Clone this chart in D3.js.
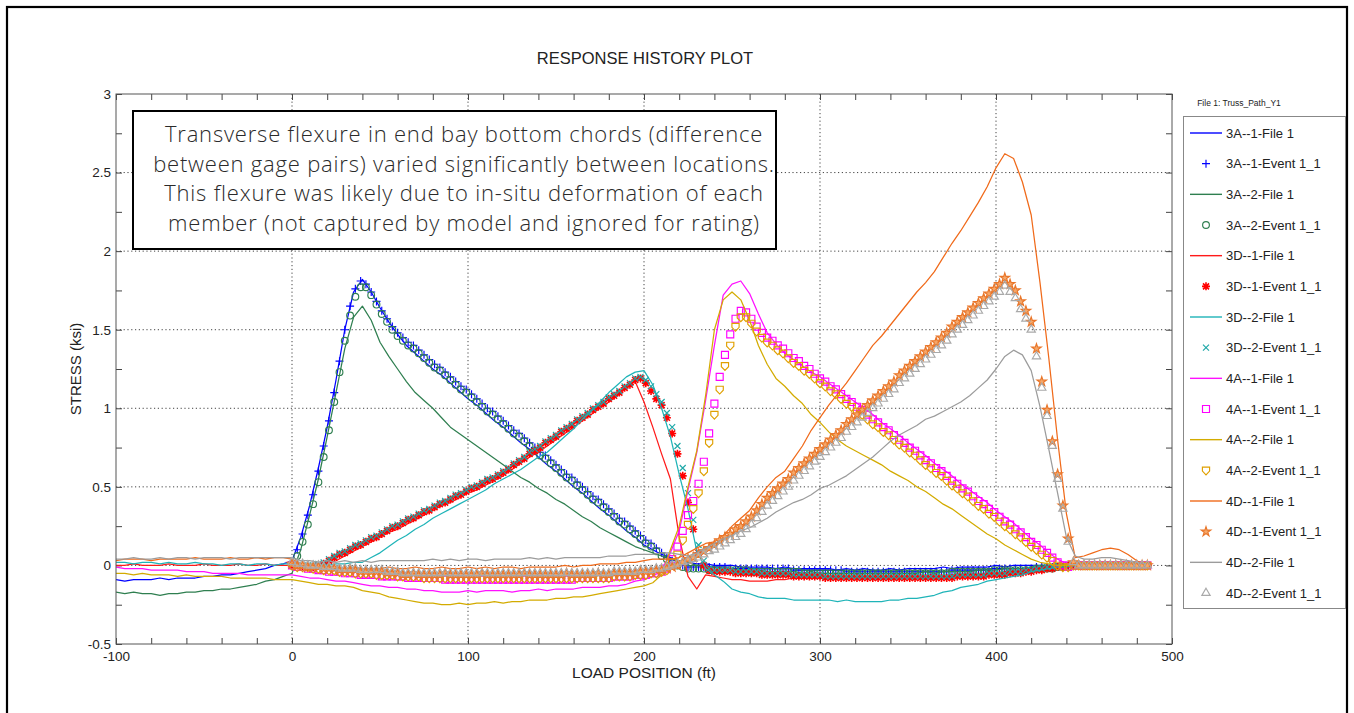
<!DOCTYPE html>
<html>
<head>
<meta charset="utf-8">
<title>Response History Plot</title>
<script src="https://cdn.jsdelivr.net/npm/d3@7"></script>
<style>
  body { margin: 0; background: #fff; }
  svg { display: block; }
  text { font-family: "Liberation Sans", Arial, sans-serif; fill: #222; }
  .note { font-family: "Open Sans", "Lato", sans-serif; font-weight: 300; fill: #2a2a2a; }
</style>
</head>
<body>
<div id="chart"></div>
<script>
// ---- data (load position in ft, stress in ksi) ----

// positions of the measured "File 1" traces
const lineX = [-100,-95,-90,-85,-80,-75,-70,-65,-60,-55,-50,-45,-40,-35,-30,-25,-20,-15,-10,-5,
  0,5,10,15,20,25,30,35,40,45,50,55,60,65,70,75,80,85,90,95,100,105,110,115,120,125,130,135,140,145,
  150,155,160,165,170,175,180,185,190,195,200,205,210,215,220,225,230,235,240,245,250,255,260,265,270,275,280,285,290,295,
  300,305,310,315,320,325,330,335,340,345,350,355,360,365,370,375,380,385,390,395,400,405,410,415,420,425,430,435,440,445,
  450,455,460,465,470,475,480,485]

// positions of the model "Event 1_1" markers
const eventX = [0,3,6,9,12,15,18,21,24,27,30,33,36,39,42,45,48,51,54,57,60,63,66,69,72,75,78,81,84,87,
  90,93,96,99,102,105,108,111,114,117,120,123,126,129,132,135,138,141,144,147,150,153,156,159,162,165,168,171,174,177,
  180,183,186,189,192,195,198,201,204,207,210,213,216,219,222,225,228,231,234,237,240,243,246,249,252,255,258,261,264,267,
  270,273,276,279,282,285,288,291,294,297,300,303,306,309,312,315,318,321,324,327,330,333,336,339,342,345,348,351,354,357,
  360,363,366,369,372,375,378,381,384,387,390,393,396,399,402,405,408,411,414,417,420,423,426,429,432,435,438,441,444,447,
  450,453,456,459,462,465,468,471,474,477,480,483,486]

// measured traces
const line3A1 = [-0.09,-0.10,-0.09,-0.09,-0.09,-0.08,-0.09,-0.08,-0.08,-0.08,-0.07,-0.07,-0.06,-0.06,-0.05,-0.04,-0.03,-0.02,0.00,0.01,
  0.03,0.18,0.38,0.62,0.88,1.18,1.50,1.74,1.82,1.74,1.64,1.55,1.47,
  1.40,1.35,1.30,1.25,1.21,1.16,1.11,1.06,1.02,0.97,0.92,0.88,0.83,0.78,0.74,0.69,0.64,0.60,0.55,0.50,0.46,0.41,0.36,0.32,0.27,0.22,0.18,0.13,0.10,0.07,0.05,0.03,0.02,
  0.01,0.01,0.00,0.00,0.00,-0.01,-0.01,-0.01,-0.01,-0.02,-0.01,-0.02,-0.02,-0.02,-0.02,-0.02,-0.03,-0.02,-0.03,-0.02,
  -0.03,-0.03,-0.02,-0.03,-0.02,-0.02,-0.02,-0.02,-0.01,-0.02,-0.01,-0.01,-0.01,-0.01,0.00,-0.01,0.00,0.00,0.00,0.00,
  0.00,0.00,0.00,0.00,0.00,0.00,0.01,0.00,0.00,0.00,0.00,0.00]
const line3A2 = [-0.17,-0.18,-0.17,-0.18,-0.18,-0.19,-0.18,-0.18,-0.17,-0.17,-0.16,-0.16,-0.15,-0.15,-0.14,-0.13,-0.12,-0.10,-0.09,-0.07,
  -0.05,0.10,0.32,0.55,0.82,1.10,1.38,1.58,1.65,1.56,1.42,1.33,1.25,
  1.17,1.10,1.05,1.00,0.94,0.88,0.84,0.80,0.76,0.72,0.68,0.64,0.60,0.56,0.53,0.49,0.46,0.42,0.39,0.35,0.31,0.28,0.24,0.21,0.18,0.15,0.12,0.10,0.08,0.06,0.04,0.03,0.02,
  0.00,-0.01,-0.01,-0.02,-0.02,-0.03,-0.03,-0.03,-0.04,-0.04,-0.04,-0.04,-0.05,-0.04,-0.05,-0.05,-0.05,-0.05,-0.05,-0.05,
  -0.05,-0.05,-0.05,-0.05,-0.05,-0.05,-0.04,-0.05,-0.04,-0.04,-0.04,-0.04,-0.03,-0.03,-0.03,-0.02,-0.02,-0.02,-0.01,-0.01,
  -0.01,0.00,0.00,0.00,0.00,0.00,0.00,0.00,0.00,0.00,0.00,0.00]
const line3D1 = [0.00,0.00,0.01,0.00,0.00,0.00,0.01,0.00,0.00,0.00,0.01,0.00,0.00,0.00,0.01,0.00,0.00,0.01,0.00,0.00,
  0.00,0.00,0.00,0.00,0.01,0.03,
  0.06,0.09,0.12,0.15,0.18,0.21,0.23,0.26,0.29,0.32,0.35,0.38,0.40,0.43,0.46,0.48,0.51,0.54,0.57,0.61,
  0.65,0.69,0.72,0.76,0.80,0.84,0.88,0.92,0.96,1.00,1.04,1.08,1.13,1.17,
  1.04,0.88,0.71,0.55,0.18,-0.07,-0.15,-0.06,
  -0.07,-0.08,-0.09,-0.09,-0.10,-0.10,-0.10,-0.09,-0.09,-0.08,-0.08,-0.08,-0.08,-0.09,-0.08,-0.08,-0.09,-0.08,-0.08,-0.08,
  -0.08,-0.08,-0.08,-0.07,-0.08,-0.07,-0.07,-0.07,-0.06,-0.06,-0.06,-0.05,-0.05,-0.04,-0.04,-0.03,-0.03,-0.02,-0.01,-0.01,
  0.00,0.00,0.00,0.01,0.00,0.00,0.00,0.00,0.00,0.00]
const line3D2 = [0.02,0.02,0.01,0.02,0.02,0.01,0.02,0.01,0.01,0.02,0.01,0.01,0.00,0.01,0.01,0.00,0.01,0.01,0.00,0.01,
  0.01,0.01,0.00,0.00,0.00,0.01,0.01,0.02,
  0.02,0.05,0.08,0.12,0.16,0.19,0.23,0.26,0.30,0.33,0.36,0.39,0.42,0.45,0.48,0.52,0.55,0.58,0.61,0.65,
  0.69,0.72,0.77,0.82,0.87,0.93,0.98,1.04,1.10,1.15,1.20,1.23,1.24,
  1.15,1.00,0.82,0.58,0.36,0.09,-0.02,-0.06,-0.10,-0.15,-0.17,-0.18,-0.20,-0.21,-0.21,-0.21,-0.22,-0.22,-0.22,-0.22,
  -0.22,-0.23,-0.22,-0.23,-0.23,-0.23,-0.23,-0.22,-0.22,-0.21,-0.21,-0.20,-0.19,-0.17,-0.16,-0.14,-0.13,-0.12,-0.10,-0.09,
  -0.08,-0.07,-0.06,-0.04,-0.03,-0.02,-0.01,-0.01,0.00,0.00,0.00,0.00,0.00,0.00,0.00,0.00,0.00]
const line4A1 = [-0.01,-0.02,-0.02,-0.02,-0.03,-0.03,-0.03,-0.03,-0.04,-0.04,-0.04,-0.05,-0.05,-0.05,-0.05,-0.06,-0.06,-0.06,-0.06,-0.06,
  -0.06,-0.07,-0.08,-0.08,-0.09,-0.10,-0.10,-0.11,-0.12,-0.13,-0.13,-0.14,-0.14,-0.15,-0.15,-0.16,-0.16,-0.17,-0.17,-0.17,
  -0.16,-0.17,-0.16,-0.16,-0.16,-0.17,-0.16,-0.16,-0.15,-0.16,-0.15,-0.15,-0.15,-0.14,-0.14,-0.14,-0.13,-0.13,-0.12,-0.10,
  -0.09,-0.07,
  -0.03,0.08,0.22,0.48,0.72,1.05,1.40,1.72,1.79,1.81,1.73,1.60,1.48,
  1.41,1.35,1.31,1.27,1.23,1.20,1.16,1.12,1.08,1.04,1.00,0.96,0.91,0.87,0.83,0.78,0.74,0.70,0.65,0.61,
  0.57,0.52,0.48,0.44,0.40,0.35,0.31,0.27,0.22,0.17,0.13,0.08,0.04,0.01,0.00,0.00,0.00,0.00,0.01,0.00,
  0.00,0.00,0.00]
const line4A2 = [-0.05,-0.05,-0.06,-0.05,-0.06,-0.06,-0.06,-0.07,-0.06,-0.07,-0.07,-0.07,-0.07,-0.08,-0.08,-0.08,-0.08,-0.08,-0.09,-0.09,
  -0.09,-0.10,-0.11,-0.12,-0.12,-0.13,-0.13,-0.14,-0.16,-0.17,-0.18,-0.20,-0.21,-0.22,-0.23,-0.24,-0.24,-0.25,-0.25,-0.24,
  -0.25,-0.24,-0.24,-0.23,-0.24,-0.23,-0.23,-0.22,-0.22,-0.22,-0.21,-0.21,-0.20,-0.20,-0.19,-0.18,-0.17,-0.16,-0.15,-0.14,
  -0.13,-0.11,
  -0.06,0.10,0.25,0.50,0.73,1.08,1.50,1.69,1.74,1.69,1.56,1.40,1.28,
  1.19,1.14,1.08,1.03,0.96,0.91,0.85,0.80,0.76,0.73,0.70,0.67,0.64,0.60,0.57,0.54,0.50,0.47,0.43,0.39,
  0.36,0.32,0.28,0.24,0.20,0.17,0.13,0.10,0.07,0.04,0.02,0.01,0.00,0.00,0.00,-0.01,0.00,0.00,0.00,0.00,
  0.00,0.00,0.00]
const line4D1 = [0.03,0.04,0.04,0.04,0.03,0.04,0.04,0.04,0.04,0.05,0.04,0.04,0.04,0.05,0.04,0.04,0.05,0.04,0.05,0.05,
  0.04,0.01,0.00,-0.01,-0.01,-0.01,-0.02,-0.01,-0.02,-0.02,-0.02,-0.01,-0.02,-0.02,-0.01,-0.02,-0.02,-0.01,-0.02,-0.02,
  -0.01,-0.02,-0.01,-0.02,-0.01,-0.01,-0.02,-0.01,-0.01,-0.01,-0.01,0.00,-0.01,0.00,0.00,0.01,0.01,0.01,0.02,0.02,
  0.03,0.04,0.04,0.04,0.05,0.08,0.11,0.14,
  0.15,0.19,0.25,0.30,0.35,0.43,0.50,0.56,0.60,0.68,0.76,0.86,0.94,1.02,1.09,1.16,1.24,1.32,1.40,1.46,
  1.53,1.60,1.67,1.74,1.80,1.87,1.96,2.05,2.13,2.22,2.31,2.41,2.53,2.62,2.59,2.44,2.23,1.80,1.32,0.80,
  0.33,0.05,0.06,0.08,0.10,0.11,0.10,0.07,0.03,0.00]
const line4D2 = [0.04,0.04,0.05,0.04,0.04,0.05,0.04,0.05,0.05,0.04,0.05,0.05,0.05,0.04,0.05,0.05,0.05,0.05,0.05,0.05,
  0.05,0.03,0.03,0.02,0.03,0.02,0.03,0.02,0.03,0.02,0.03,0.03,0.03,0.03,0.03,0.03,0.04,0.03,0.04,0.03,
  0.04,0.04,0.03,0.04,0.04,0.04,0.04,0.05,0.04,0.05,0.04,0.05,0.05,0.05,0.05,0.05,0.06,0.06,0.06,0.07,
  0.07,0.07,0.08,0.08,0.07,0.06,
  0.08,0.11,0.14,0.17,0.19,0.22,0.24,0.27,0.30,0.34,0.37,0.40,0.42,0.45,0.49,0.51,0.54,0.57,0.61,0.65,
  0.69,0.74,0.79,0.83,0.86,0.89,0.93,0.95,0.98,1.01,1.04,1.08,1.13,1.18,1.25,1.33,1.37,1.34,1.24,1.01,
  0.74,0.46,0.18,0.06,0.04,0.04,0.05,0.05,0.04,0.03,0.02,0.01]

// model markers
const event3A1 = [0.02,0.10,0.20,0.32,0.45,0.60,0.76,0.92,1.10,1.30,1.50,1.65,1.76,1.81,1.79,1.74,1.68,1.62,1.57,1.52,
  1.48,1.45,1.42,1.40,1.37,1.34,1.31,1.28,1.26,1.23,1.20,1.17,1.14,1.12,1.09,1.06,1.03,1.00,0.98,0.95,
  0.92,0.89,0.86,0.84,0.81,0.78,0.75,0.72,0.70,0.67,0.64,0.61,0.58,0.56,0.53,0.50,0.47,0.44,0.42,0.39,
  0.36,0.33,0.30,0.28,0.25,0.22,0.19,0.16,0.14,0.11,0.08,0.05,0.03,0.01,0.00,
  -0.01,-0.01,-0.01,-0.01,-0.01,-0.01,-0.01,-0.01,
  -0.02,-0.02,-0.02,-0.02,-0.02,-0.02,-0.02,-0.02,-0.02,-0.02,-0.02,-0.02,
  -0.03,-0.03,-0.03,-0.03,-0.03,-0.03,-0.03,-0.03,-0.03,-0.03,
  -0.04,-0.04,-0.04,-0.04,-0.04,-0.04,-0.04,-0.04,-0.04,-0.04,-0.04,-0.04,-0.04,-0.04,-0.04,-0.04,-0.04,-0.04,-0.04,-0.04,
  -0.03,-0.03,-0.03,-0.03,-0.03,-0.03,-0.03,-0.03,
  -0.02,-0.02,-0.02,-0.02,-0.02,-0.02,-0.02,-0.02,
  -0.01,-0.01,-0.01,-0.01,-0.01,-0.01,
  0,0,0,0,0,0,0,0,0,0,0,0,0,0,0,0]
const event3A2 = [0.00,0.06,0.15,0.26,0.39,0.53,0.69,0.86,1.04,1.23,1.43,1.59,1.71,1.77,1.77,1.72,1.66,1.60,1.55,1.50,
  1.46,1.43,1.40,1.38,1.35,1.32,1.29,1.26,1.24,1.21,1.18,1.15,1.12,1.10,1.07,1.04,1.01,0.98,0.96,0.93,
  0.90,0.87,0.84,0.82,0.79,0.76,0.73,0.70,0.68,0.65,0.62,0.59,0.56,0.54,0.51,0.48,0.45,0.42,0.40,0.37,
  0.34,0.31,0.28,0.26,0.23,0.20,0.17,0.14,0.12,0.09,0.06,0.04,0.02,0.00,-0.01,
  -0.02,-0.02,-0.02,-0.02,
  -0.03,-0.03,-0.03,-0.03,-0.03,-0.03,-0.03,-0.03,
  -0.04,-0.04,-0.04,-0.04,-0.04,-0.04,-0.04,-0.04,-0.04,-0.04,
  -0.05,-0.05,-0.05,-0.05,-0.05,-0.05,-0.05,-0.05,-0.05,-0.05,-0.05,-0.05,-0.05,-0.05,
  -0.05,-0.05,-0.05,-0.05,-0.05,-0.05,-0.05,-0.05,-0.05,-0.05,-0.05,-0.05,-0.05,-0.05,
  -0.04,-0.04,-0.04,-0.04,-0.04,-0.04,-0.04,-0.04,
  -0.03,-0.03,-0.03,-0.03,-0.03,-0.03,-0.03,-0.03,
  -0.02,-0.02,-0.02,-0.02,
  -0.01,-0.01,-0.01,
  0,0,0,0,0,0,0,0,0,0,0,0,0,0,0]
const event3D1 = [0.00,0.00,-0.01,-0.01,-0.01,0.00,0.01,0.03,
  0.05,0.07,0.08,0.10,0.12,0.13,0.15,0.17,0.18,0.20,0.22,0.24,0.25,0.27,0.29,0.30,0.32,0.34,0.35,0.37,
  0.39,0.40,0.42,0.44,0.45,0.47,0.49,0.50,0.52,0.54,0.55,0.57,0.59,
  0.61,0.64,0.66,0.68,0.71,0.73,0.75,0.78,0.80,0.82,0.85,0.87,0.89,0.92,0.94,0.96,0.99,1.01,1.03,1.06,
  1.08,1.10,1.13,1.15,
  1.18,1.19,1.16,1.11,1.06,1.02,0.94,0.84,0.71,0.57,0.40,0.23,0.08,0.00,-0.03,
  -0.04,-0.04,-0.04,-0.04,
  -0.05,-0.05,-0.05,-0.05,-0.05,
  -0.06,-0.06,-0.06,-0.06,-0.06,-0.06,
  -0.07,-0.07,-0.07,-0.07,-0.07,-0.07,
  -0.08,-0.08,-0.08,-0.08,-0.08,-0.08,-0.08,-0.08,-0.08,-0.08,-0.08,-0.08,-0.08,
  -0.08,-0.08,-0.08,-0.08,-0.08,-0.08,-0.08,-0.08,-0.08,-0.08,-0.08,-0.08,
  -0.07,-0.07,-0.07,-0.07,-0.07,-0.07,
  -0.06,-0.06,-0.06,-0.06,
  -0.05,-0.05,-0.05,
  -0.04,-0.04,-0.03,-0.03,-0.02,-0.02,-0.01,-0.01,
  0,0,0,0,0,0,0,0,0,0,0,0,0,0,0,0]
const event3D2 = [0.01,0.00,0.00,-0.01,0.00,0.01,0.02,0.04,
  0.06,0.08,0.09,0.11,0.13,0.14,0.16,0.18,0.19,0.21,0.23,0.25,0.26,0.28,0.30,0.31,0.33,0.35,0.36,0.38,
  0.40,0.41,0.43,0.45,0.46,0.48,0.50,0.51,0.53,0.55,0.56,0.58,0.60,
  0.62,0.65,0.67,0.69,0.72,0.74,0.76,0.79,0.81,0.83,0.86,0.88,0.90,0.93,0.95,0.97,1.00,1.02,1.04,1.07,
  1.09,1.11,1.14,1.16,
  1.19,1.20,1.18,1.14,1.09,1.04,0.97,0.88,0.76,0.62,0.46,0.29,0.13,0.03,-0.02,
  -0.03,-0.03,-0.03,-0.03,
  -0.04,-0.04,-0.04,-0.04,-0.04,
  -0.05,-0.05,-0.05,-0.05,-0.05,-0.05,
  -0.06,-0.06,-0.06,-0.06,-0.06,-0.06,
  -0.07,-0.07,-0.07,-0.07,-0.07,-0.07,-0.07,-0.07,-0.07,-0.07,-0.07,-0.07,-0.07,
  -0.07,-0.07,-0.07,-0.07,-0.07,-0.07,-0.07,-0.07,-0.07,-0.07,-0.07,-0.07,
  -0.06,-0.06,-0.06,-0.06,-0.06,-0.06,
  -0.05,-0.05,-0.05,-0.05,
  -0.04,-0.04,-0.04,
  -0.03,-0.03,-0.02,-0.02,-0.01,-0.01,
  0,0,0,0,0,0,0,0,0,0,0,0,0,0,0,0,0,0]
const event4A1 = [0.00,-0.01,-0.01,-0.02,-0.02,-0.03,-0.03,-0.04,-0.04,-0.04,-0.05,-0.05,-0.05,-0.06,-0.06,-0.06,-0.06,-0.07,-0.07,-0.07,
  -0.07,-0.07,-0.08,-0.08,-0.08,-0.08,-0.08,-0.08,-0.08,
  -0.09,-0.09,-0.09,-0.09,-0.09,-0.09,-0.09,-0.09,-0.09,-0.09,-0.09,-0.09,-0.09,
  -0.09,-0.09,-0.09,-0.09,-0.09,-0.09,-0.09,-0.09,-0.09,-0.09,-0.09,-0.09,
  -0.08,-0.08,-0.08,-0.08,-0.08,-0.08,-0.08,-0.07,-0.07,-0.07,-0.07,-0.06,-0.06,-0.06,-0.05,-0.05,-0.04,-0.02,
  0.04,0.12,0.22,0.32,0.41,0.52,0.66,0.84,1.03,1.20,1.34,1.47,1.57,1.62,1.61,1.57,1.52,1.48,
  1.45,1.43,1.40,1.38,1.35,1.32,1.30,1.27,1.25,1.22,1.19,1.17,1.14,1.12,1.09,1.06,1.04,1.01,0.99,0.96,
  0.93,0.91,0.88,0.86,0.83,0.80,0.78,0.75,0.73,0.70,0.67,0.65,0.62,0.60,0.57,0.54,0.52,0.49,0.47,0.44,
  0.41,0.39,0.36,0.34,0.31,0.28,0.26,0.23,0.21,0.18,0.15,0.13,0.10,0.08,0.05,0.02,0.00,-0.01,
  0,0,0,0,0,0,0,0,0,0,0,0,0,0,0]
const event4A2 = [0.00,-0.01,-0.01,-0.01,-0.02,-0.02,-0.03,-0.03,-0.03,-0.04,-0.04,-0.04,-0.05,-0.05,-0.05,-0.05,-0.06,-0.06,-0.06,-0.06,
  -0.07,-0.07,-0.07,-0.07,-0.07,-0.08,-0.08,-0.08,-0.08,
  -0.08,-0.08,-0.08,-0.08,-0.08,-0.08,-0.08,-0.08,-0.08,-0.08,-0.08,-0.08,-0.08,-0.08,-0.08,-0.08,
  -0.08,-0.08,-0.08,-0.08,-0.08,-0.08,-0.08,-0.08,-0.08,-0.08,-0.08,-0.08,-0.08,-0.08,-0.08,-0.08,
  -0.07,-0.07,-0.07,-0.07,-0.06,-0.06,-0.06,-0.05,-0.05,-0.04,-0.03,
  0.02,0.07,0.16,0.26,0.36,0.46,0.60,0.78,0.96,1.12,1.27,1.40,1.52,1.58,1.58,1.54,1.49,1.45,
  1.42,1.40,1.37,1.35,1.32,1.29,1.27,1.24,1.22,1.19,1.16,1.14,1.11,1.09,1.06,1.03,1.01,0.98,0.96,0.93,
  0.90,0.88,0.85,0.83,0.80,0.77,0.75,0.72,0.70,0.67,0.64,0.62,0.59,0.57,0.54,0.51,0.49,0.46,0.44,0.41,
  0.38,0.36,0.33,0.31,0.28,0.25,0.23,0.20,0.18,0.15,0.12,0.10,0.07,
  0.05,0.03,0.00,-0.01,-0.01,
  0,0,0,0,0,0,0,0,0,0,0,0,0,0,0]
const event4D1 = [0.01,0.00,0.00,-0.01,-0.01,-0.01,-0.02,-0.02,-0.02,-0.03,-0.03,-0.03,-0.03,-0.04,-0.04,-0.04,-0.04,-0.04,-0.05,-0.05,-0.05,
  -0.06,-0.06,-0.05,-0.06,-0.06,-0.06,-0.06,-0.06,-0.05,-0.06,-0.06,-0.06,-0.06,-0.06,-0.06,-0.05,-0.06,-0.06,-0.06,-0.06,
  -0.06,-0.06,-0.06,-0.05,-0.06,-0.06,-0.06,-0.06,-0.06,-0.06,-0.06,-0.05,-0.06,-0.06,-0.06,-0.06,-0.06,-0.05,-0.06,-0.06,
  -0.05,-0.05,-0.05,-0.05,-0.05,-0.04,-0.04,-0.04,-0.03,-0.03,-0.02,-0.01,0.00,0.02,0.04,
  0.05,0.07,0.09,0.11,0.13,0.16,0.18,0.20,0.23,0.25,0.28,0.31,0.35,0.39,
  0.43,0.46,0.49,0.52,0.55,0.59,0.62,0.65,0.68,0.71,0.74,0.77,0.80,0.83,0.86,0.90,0.93,0.96,0.99,1.02,
  1.05,1.08,1.11,1.14,1.17,1.21,1.24,1.27,1.30,1.33,1.36,1.39,1.42,1.45,1.48,1.52,1.55,1.58,1.61,1.64,
  1.67,1.70,1.73,1.76,1.79,1.83,
  1.79,1.75,1.68,1.62,1.55,1.38,1.17,0.99,0.79,0.58,0.38,0.17,0.02,0.00,
  0,0,0,0,0,0,0,0,0,0,0,0,0]
const event4D2 = [0.02,0.01,0.01,0.00,0.00,0.00,-0.01,-0.01,-0.01,-0.02,-0.02,-0.02,-0.02,-0.03,-0.03,-0.03,-0.03,-0.03,-0.04,-0.04,-0.04,
  -0.05,-0.05,-0.05,-0.05,-0.05,-0.05,-0.05,-0.05,-0.05,-0.05,-0.05,-0.05,-0.05,-0.05,-0.05,-0.05,-0.05,-0.05,-0.05,-0.05,
  -0.05,-0.05,-0.05,-0.05,-0.05,-0.05,-0.05,-0.05,-0.05,-0.05,-0.05,-0.05,-0.05,-0.05,-0.05,-0.05,-0.05,-0.05,-0.05,-0.05,
  -0.04,-0.04,-0.04,-0.04,-0.04,-0.03,-0.03,-0.03,-0.02,-0.02,-0.01,0.00,0.01,0.02,0.03,
  0.04,0.05,0.07,0.09,0.10,0.12,0.14,0.16,0.18,0.20,0.23,0.26,0.30,0.34,
  0.38,0.41,0.44,0.47,0.50,0.54,0.57,0.60,0.63,0.66,0.69,0.72,0.75,0.78,0.81,0.85,0.88,0.91,0.94,0.97,
  1.00,1.03,1.06,1.09,1.12,1.16,1.19,1.22,1.25,1.28,1.31,1.34,1.37,1.40,1.43,1.47,1.50,1.53,1.56,1.59,
  1.62,1.65,1.68,1.71,1.74,1.78,
  1.74,1.70,1.63,1.57,1.50,1.33,1.13,0.95,0.76,0.55,0.36,0.15,0.02,0.00,
  0,0,0,0,0,0,0,0,0,0,0,0,0]

const gageNames = ["3A--1", "3A--2", "3D--1", "3D--2", "4A--1", "4A--2", "4D--1", "4D--2"]
const fileLines = [line3A1, line3A2, line3D1, line3D2, line4A1, line4A2, line4D1, line4D2]
const eventSets = [event3A1, event3A2, event3D1, event3D2, event4A1, event4A2, event4D1, event4D2]

const xTicks = [-100, 0, 100, 200, 300, 400, 500]
const yTicks = [-0.5, 0, 0.5, 1, 1.5, 2, 2.5, 3]
const noteLines = [
  "Transverse flexure in end bay bottom chords (difference",
  "between gage pairs) varied significantly between locations.",
  "This flexure was likely due to in-situ deformation of each",
  "member (not captured by model and ignored for rating)"
]

// ---- styles ----
const lineColors = ["#0000ff", "#2f7f50", "#ff1a1a", "#1fb4b8", "#ff10ff", "#d3ab00", "#f06a1a", "#9c9c9c"]
const markColors = ["#0000ff", "#2f7f50", "#ff0000", "#1fa8a8", "#ff00ff", "#e0a000", "#e9762a", "#a9a9a9"]
const markShapes = ["plus", "circle", "asterisk", "cross", "square", "shield", "star", "triangle"]

const markerPath = {
  plus: "M-4,0H4M0,-4V4",
  circle: d3.symbol(d3.symbolCircle, 36)(),
  asterisk: "M-4,0H4M0,-4V4M-3,-3L3,3M-3,3L3,-3",
  cross: "M-3,-3L3,3M-3,3L3,-3",
  square: "M-3.5,-3.5H3.5V3.5H-3.5Z",
  shield: "M-3.6,-3.2L3.6,-3.2L3.6,0.8L0,4.6L-3.6,0.8Z",
  star: d3.symbol(d3.symbolStar, 28)(),
  triangle: d3.symbol(d3.symbolTriangle, 30)()
}

const width = 1354, height = 713
const plot = { left: 116, right: 1172, top: 94, bottom: 644 }

const svg = d3.select("#chart").append("svg")
  .attr("width", width)
  .attr("height", height)

svg.append("rect").attr("width", width).attr("height", height).attr("fill", "#fff")

// outer frame of the figure
svg.append("rect")
  .attr("x", 7).attr("y", 7)
  .attr("width", 1340).attr("height", 730)
  .attr("fill", "none").attr("stroke", "#000").attr("stroke-width", 2.2)

const x = d3.scaleLinear().domain([-100, 500]).range([plot.left, plot.right])
const y = d3.scaleLinear().domain([-0.5, 3]).range([plot.bottom, plot.top])

// title
svg.append("text")
  .attr("x", 645).attr("y", 64)
  .attr("text-anchor", "middle")
  .style("font-size", "16.5px")
  .text("RESPONSE HISTORY PLOT")

// grid (dotted, major ticks only)
const grid = svg.append("g").attr("stroke", "#444").attr("stroke-dasharray", "1.2,2.6").attr("stroke-width", 1)
grid.selectAll("line.gx").data(xTicks.slice(1, -1)).enter().append("line")
  .attr("x1", d => x(d)).attr("x2", d => x(d))
  .attr("y1", plot.top).attr("y2", plot.bottom)
grid.selectAll("line.gy").data(yTicks.slice(1, -1)).enter().append("line")
  .attr("y1", d => y(d)).attr("y2", d => y(d))
  .attr("x1", plot.left).attr("x2", plot.right)

// inward ticks on all four sides (every 20 ft, every 0.25 ksi)
const minorX = d3.range(-100, 501, 20)
const minorY = d3.range(-0.5, 3.01, 0.25)
const tickLen = 6
const tickAxes = [
  [d3.axisBottom(x).tickValues(minorX).tickSize(-tickLen), `translate(0,${plot.bottom})`],
  [d3.axisTop(x).tickValues(minorX).tickSize(-tickLen), `translate(0,${plot.top})`],
  [d3.axisLeft(y).tickValues(minorY).tickSize(-tickLen), `translate(${plot.left},0)`],
  [d3.axisRight(y).tickValues(minorY).tickSize(-tickLen), `translate(${plot.right},0)`]
]
tickAxes.forEach(([ax, tr]) => {
  const g = svg.append("g").attr("transform", tr).call(ax.tickFormat("").tickSizeOuter(0))
  g.select(".domain").remove()
  g.selectAll("line").attr("stroke", "#444")
})

// tick labels
const xLab = svg.append("g").attr("transform", `translate(0,${plot.bottom})`)
  .call(d3.axisBottom(x).tickValues(xTicks).tickSize(0).tickPadding(7).tickFormat(d => String(d)))
xLab.select(".domain").remove()
xLab.selectAll("text").style("font-size", "13.5px").attr("fill", "#222").style("font-family", "Liberation Sans, Arial, sans-serif")

const yLab = svg.append("g").attr("transform", `translate(${plot.left},0)`)
  .call(d3.axisLeft(y).tickValues(yTicks).tickSize(0).tickPadding(5).tickFormat(d => String(d)))
yLab.select(".domain").remove()
yLab.selectAll("text").style("font-size", "13.5px").attr("fill", "#222").style("font-family", "Liberation Sans, Arial, sans-serif")

// axis titles
svg.append("text")
  .attr("x", (plot.left + plot.right) / 2).attr("y", 678)
  .attr("text-anchor", "middle")
  .style("font-size", "15.5px")
  .text("LOAD POSITION (ft)")

svg.append("text")
  .attr("transform", `translate(81,${(plot.top + plot.bottom) / 2}) rotate(-90)`)
  .attr("text-anchor", "middle")
  .style("font-size", "15px")
  .text("STRESS (ksi)")

// data layer
svg.append("clipPath").attr("id", "plotClip")
  .append("rect")
  .attr("x", plot.left).attr("y", plot.top)
  .attr("width", plot.right - plot.left).attr("height", plot.bottom - plot.top)

const layer = svg.append("g").attr("clip-path", "url(#plotClip)")
const lineGen = d3.line().x(d => x(d[0])).y(d => y(d[1]))

gageNames.forEach((name, k) => {
  const pts = lineX.map((v, i) => [v, fileLines[k][i]]).filter(d => d[1] !== undefined)
  layer.append("path")
    .datum(pts)
    .attr("fill", "none")
    .attr("stroke", lineColors[k])
    .attr("stroke-width", 1.25)
    .attr("stroke-linejoin", "round")
    .attr("d", lineGen)

  const ev = eventX.map((v, i) => [v, eventSets[k][i]]).filter(d => d[1] !== undefined)
  const shape = markShapes[k]
  layer.append("g").selectAll("path")
    .data(ev)
    .enter().append("path")
    .attr("transform", d => `translate(${x(d[0])},${y(d[1])})`)
    .attr("d", markerPath[shape])
    .attr("fill", shape === "star" ? "#f5a86a" : "none")
    .attr("stroke", markColors[k])
    .attr("stroke-width", shape === "asterisk" ? 1.6 : 1.15)
})

// plot frame
svg.append("rect")
  .attr("x", plot.left).attr("y", plot.top)
  .attr("width", plot.right - plot.left).attr("height", plot.bottom - plot.top)
  .attr("fill", "none").attr("stroke", "#555").attr("stroke-width", 1)

// annotation box
const note = svg.append("g")
note.append("rect")
  .attr("x", 133).attr("y", 111)
  .attr("width", 643).attr("height", 138)
  .attr("fill", "#fff").attr("stroke", "#000").attr("stroke-width", 2)
note.selectAll("text").data(noteLines).enter().append("text")
  .attr("class", "note")
  .attr("x", 464)
  .attr("y", (d, i) => 142 + i * 29.5)
  .attr("text-anchor", "middle")
  .style("font-size", "22px")
  .style("letter-spacing", "0.8px")
  .text(d => d)

// legend
svg.append("text")
  .attr("x", 1239).attr("y", 106)
  .attr("text-anchor", "middle")
  .style("font-size", "8.5px")
  .attr("fill", "#444")
  .text("File 1: Truss_Path_Y1")

svg.append("rect")
  .attr("x", 1183.5).attr("y", 116.5)
  .attr("width", 162).attr("height", 492)
  .attr("fill", "#fff").attr("stroke", "#888").attr("stroke-width", 1)

const legendItems = []
gageNames.forEach((name, k) => {
  legendItems.push({ label: `${name}-File 1`, type: "line", k })
  legendItems.push({ label: `${name}-Event 1_1`, type: "mark", k })
})
const legY = d3.scaleLinear().domain([0, legendItems.length - 1]).range([133, 593])

const leg = svg.append("g").selectAll("g").data(legendItems).enter().append("g")
  .attr("transform", (d, i) => `translate(0,${legY(i)})`)
leg.filter(d => d.type === "line").append("line")
  .attr("x1", 1190).attr("x2", 1222)
  .attr("stroke", d => lineColors[d.k]).attr("stroke-width", 1.4)
leg.filter(d => d.type === "mark").append("path")
  .attr("transform", "translate(1206,0)")
  .attr("d", d => markerPath[markShapes[d.k]])
  .attr("fill", d => markShapes[d.k] === "star" ? "#f5a86a" : "none")
  .attr("stroke", d => markColors[d.k])
  .attr("stroke-width", d => markShapes[d.k] === "asterisk" ? 1.6 : 1.15)
leg.append("text")
  .attr("x", 1226).attr("y", 4.5)
  .style("font-size", "13px")
  .text(d => d.label)

// sanity check of the typed arrays
const bad = fileLines.map((a, k) => a.length !== lineX.length ? `L${k}:${a.length}` : null)
  .concat(eventSets.map((a, k) => a.length !== eventX.length ? `E${k}:${a.length}` : null))
  .filter(Boolean)
if (bad.length) svg.append("text").attr("x", 20).attr("y", 705).attr("fill", "red").text(bad.join(" "))
</script>
</body>
</html>
